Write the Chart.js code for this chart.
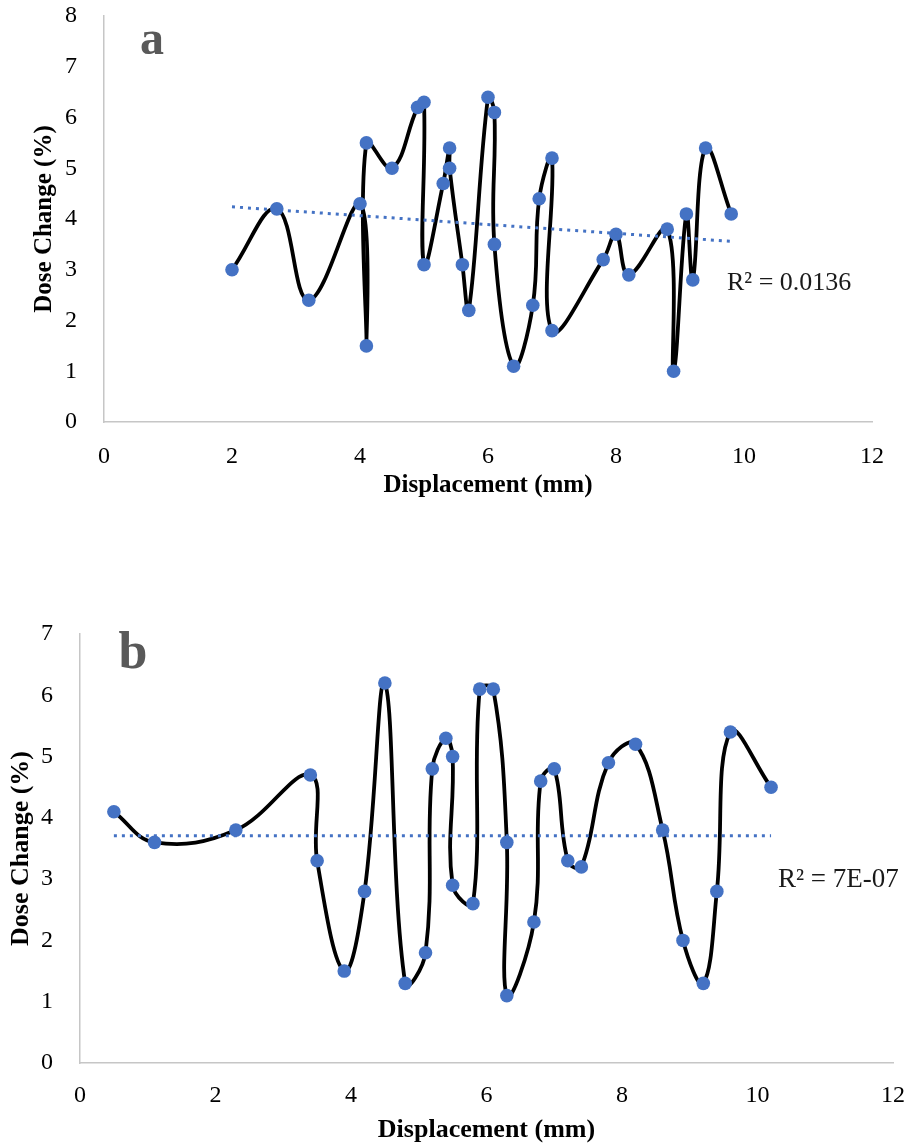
<!DOCTYPE html>
<html>
<head>
<meta charset="utf-8">
<script src="https://cdn.jsdelivr.net/npm/chart.js@4.4.1/dist/chart.umd.min.js"></script>
<style>
  html, body { margin: 0; padding: 0; background: #fff; }
  body { width: 909px; height: 1145px; position: relative; overflow: hidden; }
  canvas { position: absolute; left: 0; }
  #chartA { top: 0; }
  #chartB { top: 580px; }
</style>
</head>
<body>
<canvas id="chartA" width="909" height="520"></canvas>
<canvas id="chartB" width="909" height="565"></canvas>
<script>
/* ── Data ───────────────────────────────────────────────── */
const dispA = [2.0, 2.7, 3.2, 4.0, 4.1, 4.1, 4.5, 4.9, 5.0, 5.0, 5.3, 5.4, 5.4, 5.6, 5.7, 6.0,
               6.1, 6.1, 6.4, 6.7, 6.8, 7.0, 7.0, 7.8, 8.0, 8.2, 8.8, 8.9, 9.1, 9.2, 9.4, 9.8];
const doseA = [3.0, 4.2, 2.4, 4.3, 1.5, 5.5, 5.0, 6.2, 6.3, 3.1, 4.7, 5.4, 5.0, 3.1, 2.2, 6.4,
               6.1, 3.5, 1.1, 2.3, 4.4, 5.2, 1.8, 3.2, 3.7, 2.9, 3.8, 1.0, 4.1, 2.8, 5.4, 4.1];
const trendAx = [2.0, 9.8];
const trendAy = [4.24, 3.56];

const dispB = [0.5, 1.1, 2.3, 3.4, 3.5, 3.9, 4.2, 4.5, 4.8, 5.1, 5.2, 5.4, 5.5, 5.5, 5.8, 5.9,
               6.1, 6.3, 6.3, 6.7, 6.8, 7.0, 7.2, 7.4, 7.8, 8.2, 8.6, 8.9, 9.2, 9.4, 9.6, 10.2];
const doseB = [4.1, 3.6, 3.8, 4.7, 3.3, 1.5, 2.8, 6.2, 1.3, 1.8, 4.8, 5.3, 5.0, 2.9, 2.6, 6.1,
               6.1, 3.6, 1.1, 2.3, 4.6, 4.8, 3.3, 3.2, 4.9, 5.2, 3.8, 2.0, 1.3, 2.8, 5.4, 4.5];
const trendBx = [0.5, 10.2];
const trendBy = [3.71, 3.71];

const xTitle = 'Displacement (mm)';
const yTitle = 'Dose Change (%)';

/* ── Styling ────────────────────────────────────────────── */
const SERIF  = '"Liberation Serif", "Times New Roman", serif';
const BLUE   = '#4472C4';
const AXIS   = '#c6c6c6';

Chart.defaults.font.family = SERIF;
Chart.defaults.color = '#000';

const toPts = (xs, ys) => xs.map((x, i) => ({ x, y: ys[i] }));

/* panel letter + R² text */
const labelsPlugin = {
  id: 'panelLabels',
  afterDraw(chart, args, o) {
    const ctx = chart.ctx;
    ctx.save();
    ctx.textBaseline = 'middle';
    ctx.fillStyle = '#595959';
    ctx.textAlign = 'center';
    ctx.font = `bold ${o.letterSize}px ${SERIF}`;
    ctx.fillText(o.letter, o.letterX, o.letterY);
    ctx.fillStyle = '#1a1a1a';
    ctx.textAlign = 'left';
    ctx.font = `${o.r2Size}px ${SERIF}`;
    ctx.fillText(o.r2, o.r2X, o.r2Y);
    ctx.restore();
  }
};

function makeChart(el, c) {
  return new Chart(el, {
    type: 'line',
    data: {
      datasets: [
        {
          data: toPts(c.tx, c.ty),
          borderColor: BLUE,
          borderWidth: 3,
          borderDash: [3, 5],
          pointRadius: 0,
          tension: 0
        },
        {
          data: toPts(c.xs, c.ys),
          borderColor: '#000',
          borderWidth: 3.8,
          tension: 0.4,
          pointRadius: 6.8,
          pointBackgroundColor: BLUE,
          pointBorderWidth: 0
        }
      ]
    },
    options: {
      responsive: false,
      animation: false,
      events: [],
      layout: { padding: c.pad },
      plugins: {
        legend: { display: false },
        tooltip: { enabled: false },
        panelLabels: c.labels
      },
      scales: {
        x: {
          type: 'linear', min: 0, max: 12,
          grid: { display: false },
          border: { display: true, color: AXIS, width: 1.5 },
          ticks: { stepSize: 2, padding: c.xTickPad, font: { size: 24, lineHeight: 1 } },
          title: { display: true, text: xTitle, padding: { top: 0, bottom: c.xTitlePad },
                   font: { size: c.titleSize, weight: 'bold', lineHeight: 1 } },
          afterFit: s => { s.height = c.xH; s.paddingLeft = 0; s.paddingRight = 0; }
        },
        y: {
          min: 0, max: c.yMax,
          grid: { display: false },
          border: { display: true, color: AXIS, width: 1.5 },
          ticks: { stepSize: 1, padding: 19, font: { size: 24, lineHeight: 1 } },
          title: { display: true, text: yTitle, padding: { top: c.yTitlePad, bottom: 0 },
                   font: { size: c.titleSize, weight: 'bold', lineHeight: 1 } },
          afterFit: s => { s.width = c.yW; s.paddingTop = 0; s.paddingBottom = 0; }
        }
      }
    },
    plugins: [labelsPlugin]
  });
}

/* ── Panel a ───────────────────────────────────────────── */
makeChart(document.getElementById('chartA'), {
  xs: dispA, ys: doseA, tx: trendAx, ty: trendAy, yMax: 8,
  pad: { left: 0, right: 37, top: 16, bottom: 0 },
  yW: 104, xH: 98, xTickPad: 15, xTitlePad: 22, yTitlePad: 32, titleSize: 25,
  labels: { letter: 'a', letterSize: 48, letterX: 152, letterY: 42,
            r2: 'R² = 0.0136', r2Size: 26, r2X: 727, r2Y: 283 }
});

/* ── Panel b ───────────────────────────────────────────── */
makeChart(document.getElementById('chartB'), {
  xs: dispB, ys: doseB, tx: trendBx, ty: trendBy, yMax: 7,
  pad: { left: 0, right: 16, top: 54, bottom: 0 },
  yW: 80, xH: 82, xTickPad: 13, xTitlePad: 2, yTitlePad: 8, titleSize: 26,
  labels: { letter: 'b', letterSize: 52, letterX: 133, letterY: 75,
            r2: 'R² = 7E-07', r2Size: 27, r2X: 778, r2Y: 300 }
});
</script>
</body>
</html>
